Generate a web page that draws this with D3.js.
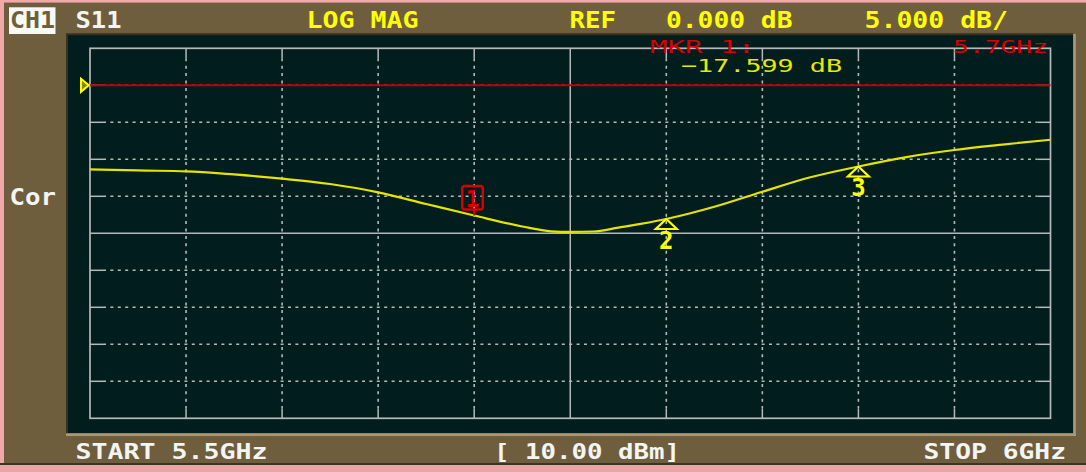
<!DOCTYPE html>
<html><head><meta charset="utf-8">
<script src="https://cdn.jsdelivr.net/npm/d3@7"></script>
<style>html,body{margin:0;padding:0;background:#6e5e3e;overflow:hidden}</style>
</head><body>
<svg id="c" width="1086" height="472"></svg>
<script>
// ---- data ----
const freqGHz = [5.500,5.525,5.550,5.575,5.600,5.625,5.650,5.675,5.700,5.725,5.740,5.750,5.762,5.775,5.800,5.825,5.850,5.875,5.900,5.925,5.950,5.975,6.000];
const s11dB   = [-11.35,-11.51,-11.62,-12.05,-12.62,-13.34,-14.46,-16.04,-17.60,-19.08,-19.74,-19.82,-19.76,-19.23,-18.07,-16.42,-14.38,-12.43,-10.97,-9.70,-8.74,-8.01,-7.36];
const xGridGHz = [5.50,5.55,5.60,5.65,5.70,5.75,5.80,5.85,5.90,5.95,6.00];
const yGridDB  = [5,0,-5,-10,-15,-20,-25,-30,-35,-40,-45];
const markerNo  = [1,2,3];
const markerGHz = [5.7,5.8,5.9];
const refDB = 0;

// ---- layout ----
const svg = d3.select("#c");
const X0 = 90, X1 = 1050.5, Y0 = 48.3, Y1 = 418.3;
const x = d3.scaleLinear().domain([5.5, 6.0]).range([X0, X1]);
const y = d3.scaleLinear().domain([-45, 5]).range([Y1, Y0]);

const BROWN = "#6e5e3e", PANEL = "#021d1d", GRID = "#b2baba", YEL = "#ffff00", TRACE = "#e4e400", RED = "#d80000", WHITE = "#f4f4f0";

// outer frame / border
svg.append("rect").attr("width",1086).attr("height",472).attr("fill",BROWN);
svg.append("rect").attr("x",0).attr("y",0).attr("width",1086).attr("height",2.6).attr("fill","#f0a8a8");
svg.append("rect").attr("x",0).attr("y",0).attr("width",4).attr("height",472).attr("fill","#f0a8a8");
svg.append("rect").attr("x",0).attr("y",463).attr("width",1086).attr("height",2).attr("fill","#3e3424");
svg.append("rect").attr("x",0).attr("y",465).attr("width",1086).attr("height",7).attr("fill","#eaa4a4");

// panel with bevel
svg.append("rect").attr("x",67).attr("y",34.3).attr("width",1006).attr("height",399).attr("fill",PANEL);
svg.append("line").attr("x1",66).attr("y1",34.3).attr("x2",1073).attr("y2",34.3).attr("stroke","#3a3020").attr("stroke-width",2);
svg.append("line").attr("x1",67).attr("y1",34).attr("x2",67).attr("y2",434).attr("stroke","#3a3020").attr("stroke-width",2);
svg.append("line").attr("x1",66).attr("y1",434.6).attr("x2",1076).attr("y2",434.6).attr("stroke","#a89878").attr("stroke-width",2.6);
svg.append("line").attr("x1",1074.5).attr("y1",34).attr("x2",1074.5).attr("y2",436).attr("stroke","#a89878").attr("stroke-width",2.6);

// grid
const g = svg.append("g");
const TICK = 10, DASH = "3,4.4";
xGridGHz.slice(1,-1).forEach(f => {
  const px = x(f);
  if (Math.abs(f-5.75) < 1e-6) {
    g.append("line").attr("x1",px).attr("x2",px).attr("y1",Y0).attr("y2",Y1).attr("stroke",GRID).attr("stroke-width",1.5);
  } else {
    g.append("line").attr("x1",px).attr("x2",px).attr("y1",Y0+TICK).attr("y2",Y1-TICK).attr("stroke",GRID).attr("stroke-width",1.6).attr("stroke-dasharray",DASH);
    g.append("line").attr("x1",px).attr("x2",px).attr("y1",Y0).attr("y2",Y0+TICK).attr("stroke",GRID).attr("stroke-width",1.5);
    g.append("line").attr("x1",px).attr("x2",px).attr("y1",Y1-TICK).attr("y2",Y1).attr("stroke",GRID).attr("stroke-width",1.5);
  }
});
yGridDB.slice(1,-1).forEach(v => {
  const py = y(v);
  if (v === -20) {
    g.append("line").attr("x1",X0).attr("x2",X1).attr("y1",py).attr("y2",py).attr("stroke",GRID).attr("stroke-width",1.5);
  } else {
    g.append("line").attr("x1",X0+TICK+3).attr("x2",X1-TICK-3).attr("y1",py).attr("y2",py).attr("stroke",GRID).attr("stroke-width",1.6).attr("stroke-dasharray",DASH);
    g.append("line").attr("x1",X0).attr("x2",X0+TICK+3).attr("y1",py).attr("y2",py).attr("stroke",GRID).attr("stroke-width",1.5);
    g.append("line").attr("x1",X1-TICK-3).attr("x2",X1).attr("y1",py).attr("y2",py).attr("stroke",GRID).attr("stroke-width",1.5);
  }
});
g.append("rect").attr("x",X0).attr("y",Y0).attr("width",X1-X0).attr("height",Y1-Y0).attr("fill","none").attr("stroke",GRID).attr("stroke-width",1.7);

// reference line + indicator
svg.append("line").attr("x1",X0).attr("x2",X1).attr("y1",y(refDB)).attr("y2",y(refDB)).attr("stroke","#c00000").attr("stroke-width",2);
svg.append("path").attr("d",`M81,${y(refDB)-6.5}L88.8,${y(refDB)}L81,${y(refDB)+6.5}Z`).attr("fill","#8a8a00").attr("stroke",YEL).attr("stroke-width",2);

// trace
const pts = freqGHz.map((f,i)=>[f, s11dB[i]]);
svg.append("path").datum(pts)
  .attr("d", d3.line().x(d=>x(d[0])).y(d=>y(d[1])).curve(d3.curveMonotoneX))
  .attr("fill","none").attr("stroke",TRACE).attr("stroke-width",2.2);

function valueAt(f){
  const i = d3.bisectLeft(freqGHz, f - 1e-9);
  if (Math.abs(freqGHz[i]-f) < 1e-9) return s11dB[i];
  const t = (f-freqGHz[i-1])/(freqGHz[i]-freqGHz[i-1]);
  return s11dB[i-1] + t*(s11dB[i]-s11dB[i-1]);
}

// text helper
function txt(x0, base, s, len, opt={}) {
  const t = svg.append("text").attr("x",x0).attr("y",base).text(s)
    .attr("font-family", opt.family || "DejaVu Sans Mono")
    .attr("font-weight", opt.weight || "bold")
    .attr("font-size", opt.size || 22)
    .attr("fill", opt.fill || WHITE)
    .attr("text-anchor", opt.anchor || "start");
  if (len) t.attr("textLength", len).attr("lengthAdjust","spacingAndGlyphs");
  return t;
}

// markers
markerNo.forEach((n,i) => {
  const f = markerGHz[i], px = x(f), py = y(valueAt(f));
  if (n === 1) {
    svg.append("rect").attr("x",px-12).attr("y",py-29.5).attr("width",20.6).attr("height",23.5).attr("rx",2.5)
      .attr("fill","none").attr("stroke",RED).attr("stroke-width",2.4);
    svg.append("line").attr("x1",px).attr("x2",px).attr("y1",py-6).attr("y2",py).attr("stroke",RED).attr("stroke-width",2);
    txt(px-1.7, py-8.5, String(n), null, {fill:RED, size:23, anchor:"middle"});
  } else {
    svg.append("path").attr("d",`M${px},${py}L${px+10.5},${py+10}L${px-10.5},${py+10}Z`)
      .attr("fill","none").attr("stroke",YEL).attr("stroke-width",2.2).attr("stroke-linejoin","miter");
    txt(px, py+30, String(n), null, {fill:YEL, size:24, anchor:"middle"});
  }
});

// header
svg.append("rect").attr("x",9).attr("y",7.3).attr("width",46.5).attr("height",26.7).attr("fill","#f8f8f4");
txt(10, 28.3, "CH1", 45, {fill:BROWN, size:23});
txt(75.5, 28, "S11", 46, {size:23});
txt(306.5, 28, "LOG MAG", 112, {fill:YEL, size:23});
txt(569.5, 28, "REF", 46.5, {fill:YEL, size:23});
txt(666, 28, "0.000 dB", 126.5, {fill:YEL, size:23});
txt(864.5, 28, "5.000 dB/", 143.5, {fill:YEL, size:23});

// marker readout
txt(650, 53.3, "MKR  1:", 105, {fill:RED, weight:"normal", size:18});
txt(953, 53.3, "5.7GHz", 95, {fill:RED, weight:"normal", size:18});
txt(681, 71.7, "\u221217.599 dB", 161, {fill:"#e8e800", weight:"normal", size:18});

// side + footer
txt(9.5, 205, "Cor", 46.5, {size:23});
txt(75.5, 459, "START 5.5GHz", 192, {size:22});
txt(494, 459, "[ 10.00 dBm]", 186, {size:22});
txt(923.5, 459, "STOP 6GHz", 142.5, {size:22});
</script>
</body></html>
